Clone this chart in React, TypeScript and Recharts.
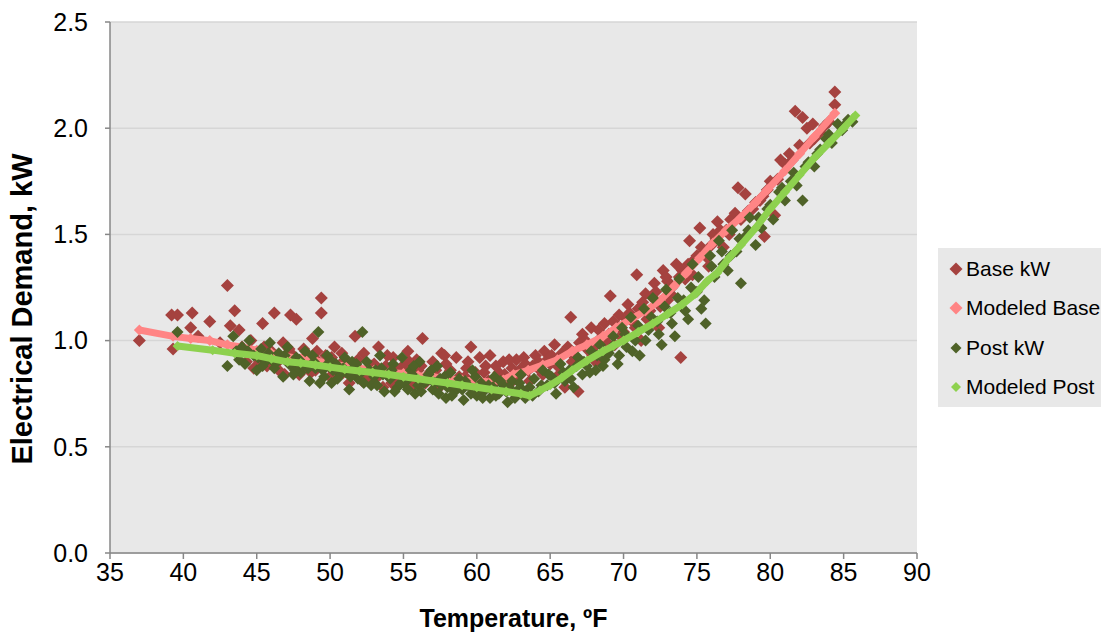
import React from 'react';
import { ScatterChart, Scatter, XAxis, YAxis, CartesianGrid, Legend } from 'recharts';

const FONT = '"Liberation Sans", Arial, sans-serif';

const xTicks = [35, 40, 45, 50, 55, 60, 65, 70, 75, 80, 85, 90];
const yTicks = [0, 0.5, 1.0, 1.5, 2.0, 2.5];

const seriesNames = ['Base kW', 'Modeled Base', 'Post kW', 'Modeled Post'];
const seriesColors = ['#A5423F', '#FF8585', '#4F6228', '#8ED14F'];

const baseKW: [number, number][] = [
  [37.0, 1.0], [39.2, 1.12], [39.6, 1.12], [39.3, 0.96], [40.5, 1.06], [40.6, 1.13], [41.0, 1.02], [41.8, 1.09],
  [42.5, 0.99], [43.0, 1.26], [43.2, 1.07], [43.5, 1.14], [43.8, 1.05], [44.0, 0.97], [44.3, 0.9], [44.6, 1.0],
  [45.0, 0.93], [45.4, 1.08], [45.7, 0.88], [46.0, 0.95], [46.2, 1.13], [46.5, 0.86], [46.8, 0.99], [47.0, 0.91],
  [47.3, 1.12], [47.7, 1.1], [47.9, 0.84], [48.2, 0.96], [48.5, 0.89], [48.8, 1.01], [49.0, 0.86], [49.4, 1.2],
  [49.4, 1.13], [49.7, 0.93], [50.0, 0.83], [50.3, 0.97], [50.6, 0.88], [51.0, 0.91], [51.3, 0.8], [51.7, 1.02],
  [52.0, 0.86], [52.3, 0.94], [52.6, 0.82], [53.0, 0.89], [53.3, 0.97], [53.6, 0.78], [54.0, 0.85], [54.3, 0.92],
  [54.6, 0.81], [55.0, 0.88], [55.3, 0.95], [55.6, 0.79], [56.0, 0.86], [56.3, 1.01], [56.6, 0.83], [57.0, 0.9],
  [57.3, 0.77], [57.6, 0.94], [58.0, 0.84], [58.3, 0.8], [58.6, 0.92], [59.0, 0.78], [59.3, 0.87], [59.6, 0.97],
  [60.0, 0.82], [60.3, 0.76], [60.6, 0.88], [60.9, 0.93], [61.2, 0.8], [61.5, 0.85], [61.8, 0.9], [62.1, 0.78],
  [62.4, 0.87], [62.7, 0.91], [63.0, 0.84], [63.3, 0.89], [63.6, 0.81], [64.0, 0.93], [64.3, 0.86], [64.6, 0.95],
  [65.0, 0.89], [65.3, 0.98], [65.6, 0.84], [66.0, 0.78], [66.4, 1.11], [66.7, 0.92], [66.9, 0.76], [67.2, 1.03],
  [67.5, 0.96], [67.8, 1.06], [68.1, 0.9], [68.4, 1.01], [68.7, 1.08], [69.1, 1.21], [69.4, 0.98], [69.7, 1.12],
  [70.0, 1.04], [70.3, 1.17], [70.6, 1.09], [70.9, 1.31], [71.2, 1.0], [71.5, 1.22], [71.8, 1.14], [72.1, 1.27],
  [72.4, 1.06], [72.7, 1.33], [73.0, 1.19], [73.3, 1.25], [73.6, 1.36], [73.9, 0.92], [74.2, 1.29], [74.5, 1.47],
  [74.8, 1.38], [75.2, 1.53], [75.5, 1.42], [75.8, 1.35], [76.1, 1.5], [76.4, 1.56], [76.8, 1.44], [77.3, 1.57],
  [77.8, 1.72], [78.3, 1.69], [78.5, 1.61], [79.0, 1.65], [79.6, 1.49], [79.8, 1.71], [80.3, 1.59], [80.7, 1.85],
  [81.0, 1.83], [81.7, 2.08], [82.2, 2.05], [82.5, 2.0], [82.9, 2.02], [83.4, 1.98], [84.4, 2.17], [84.4, 2.11],
  [44.8, 0.87], [45.9, 0.91], [46.9, 0.84], [47.5, 0.93], [48.0, 0.87], [49.2, 0.9], [50.1, 0.92], [50.9, 0.85],
  [51.6, 0.89], [52.4, 0.84], [53.1, 0.82], [53.8, 0.88], [54.5, 0.86], [55.2, 0.83], [55.9, 0.91], [56.5, 0.8],
  [57.2, 0.86], [57.9, 0.89], [58.5, 0.77], [59.2, 0.83], [59.8, 0.8], [60.5, 0.85], [61.0, 0.77], [61.7, 0.82],
  [62.3, 0.8], [62.9, 0.86], [63.8, 0.88], [64.8, 0.91], [65.8, 0.94], [67.0, 0.99], [68.0, 0.97], [69.0, 1.03],
  [70.2, 1.1], [71.0, 1.15], [72.0, 1.2], [73.0, 1.28], [74.0, 1.33], [75.0, 1.4], [76.0, 1.45], [77.0, 1.52],
  [78.0, 1.57], [79.3, 1.66], [80.0, 1.75], [81.3, 1.88], [82.0, 1.92], [83.0, 1.95], [84.0, 2.03],
  [45.2, 0.9], [45.5, 0.97], [46.3, 0.89], [46.7, 0.92], [47.2, 0.96], [47.8, 0.9], [48.4, 0.93], [48.7, 0.85],
  [49.1, 0.95], [49.9, 0.88], [50.4, 0.86], [50.8, 0.94], [51.2, 0.87], [51.9, 0.91], [52.2, 0.81], [52.8, 0.88],
  [53.4, 0.84], [53.9, 0.93], [54.2, 0.8], [54.8, 0.87], [55.4, 0.9], [55.8, 0.82], [56.2, 0.88], [56.8, 0.85],
  [57.4, 0.81], [57.8, 0.93], [58.2, 0.86], [58.8, 0.83], [59.4, 0.9], [59.9, 0.85], [60.2, 0.92], [60.8, 0.81],
  [61.3, 0.88], [61.9, 0.84], [62.2, 0.91], [62.6, 0.82], [63.2, 0.92], [63.5, 0.86], [64.2, 0.9], [64.5, 0.84],
  [65.1, 0.93], [65.5, 0.88], [66.2, 0.97], [66.5, 0.9], [67.4, 1.0], [67.9, 0.93], [68.3, 1.05], [68.9, 0.99],
  [69.3, 1.09], [69.8, 1.02], [70.4, 1.13], [70.8, 1.06], [71.3, 1.18], [71.6, 1.1], [72.2, 1.23], [72.5, 1.16],
  [72.9, 1.3], [73.2, 1.22], [73.8, 1.3], [74.4, 1.36], [74.7, 1.31], [75.3, 1.44], [75.7, 1.39], [76.3, 1.48],
  [76.6, 1.52], [77.2, 1.5], [77.6, 1.6], [78.8, 1.62], [79.5, 1.68], [80.5, 1.76], [81.5, 1.85], [82.7, 1.93],
  [83.7, 2.01],
];

const modeledBase: [number, number][] = [
  [37.0, 1.05], [39.3, 1.02], [40.5, 1.01], [41.8, 1.0], [43.0, 0.98], [44.0, 0.97], [45.0, 0.955], [46.0, 0.94],
  [47.0, 0.925], [48.0, 0.915], [49.0, 0.905], [50.0, 0.89], [51.0, 0.88], [52.0, 0.87], [53.0, 0.86], [54.0, 0.85],
  [55.0, 0.845], [56.0, 0.835], [57.0, 0.83], [58.0, 0.82], [59.0, 0.815], [60.0, 0.81], [61.0, 0.805], [61.8, 0.815],
  [62.5, 0.84], [63.5, 0.86], [64.5, 0.885], [65.5, 0.91], [66.5, 0.95], [67.5, 0.98], [68.6, 1.02], [69.5, 1.06],
  [70.5, 1.1], [71.5, 1.14], [72.5, 1.19], [73.5, 1.26], [74.3, 1.32], [75.2, 1.39], [76.1, 1.46], [77.0, 1.52],
  [78.0, 1.58], [79.0, 1.65], [79.8, 1.71], [81.0, 1.8], [82.0, 1.88], [83.0, 1.96], [84.4, 2.07],
];

const postKW: [number, number][] = [
  [39.6, 1.04], [43.0, 0.88], [43.4, 1.02], [43.6, 0.95], [44.0, 0.97], [44.2, 0.89], [44.5, 1.0], [44.8, 0.93],
  [45.0, 0.86], [45.3, 0.96], [45.6, 0.9], [45.9, 0.99], [46.2, 0.87], [46.5, 0.94], [46.8, 0.83], [47.1, 0.97],
  [47.4, 0.88], [47.7, 0.92], [48.0, 0.85], [48.3, 0.95], [48.6, 0.81], [48.9, 0.9], [49.2, 1.04], [49.5, 0.86],
  [49.8, 0.93], [50.1, 0.8], [50.4, 0.89], [50.7, 0.84], [51.0, 0.92], [51.3, 0.77], [51.6, 0.87], [51.9, 0.82],
  [52.2, 1.04], [52.5, 0.9], [52.8, 0.79], [53.1, 0.86], [53.4, 0.93], [53.7, 0.76], [54.0, 0.83], [54.3, 0.89],
  [54.6, 0.78], [54.9, 0.92], [55.2, 0.81], [55.5, 0.86], [55.8, 0.75], [56.1, 0.9], [56.4, 0.8], [56.7, 0.84],
  [57.0, 0.77], [57.3, 0.88], [57.6, 0.79], [57.9, 0.73], [58.2, 0.85], [58.5, 0.76], [58.8, 0.82], [59.1, 0.72],
  [59.4, 0.79], [59.7, 0.86], [60.0, 0.74], [60.3, 0.8], [60.6, 0.77], [60.9, 0.73], [61.2, 0.83], [61.5, 0.75],
  [61.8, 0.79], [62.1, 0.71], [62.4, 0.81], [62.7, 0.76], [63.0, 0.84], [63.3, 0.73], [63.6, 0.78], [63.9, 0.82],
  [64.2, 0.76], [64.5, 0.86], [64.8, 0.79], [65.1, 0.83], [65.4, 0.75], [65.7, 0.89], [66.0, 0.81], [66.3, 0.86],
  [66.6, 0.78], [66.9, 0.92], [67.2, 0.84], [67.5, 0.88], [67.8, 0.95], [68.1, 0.86], [68.4, 0.98], [68.7, 0.91],
  [69.0, 0.94], [69.3, 1.02], [69.6, 0.89], [69.9, 1.06], [70.2, 0.97], [70.5, 1.11], [70.8, 1.0], [71.1, 0.93],
  [71.4, 1.15], [71.7, 1.05], [72.0, 1.2], [72.3, 1.09], [72.6, 0.98], [72.9, 1.24], [73.2, 1.13], [73.5, 1.02],
  [73.8, 1.29], [74.1, 1.19], [74.4, 1.1], [74.7, 1.36], [75.0, 1.23], [75.3, 1.15], [75.6, 1.08], [75.9, 1.4],
  [76.2, 1.3], [76.5, 1.47], [76.8, 1.36], [77.1, 1.33], [77.4, 1.52], [77.7, 1.42], [78.0, 1.27], [78.3, 1.49],
  [78.6, 1.58], [79.0, 1.45], [79.4, 1.53], [79.8, 1.62], [80.2, 1.57], [80.6, 1.7], [81.0, 1.66], [81.4, 1.75],
  [81.8, 1.73], [82.2, 1.66], [82.6, 1.84], [83.0, 1.82], [83.4, 1.9], [83.8, 1.95], [84.2, 1.93], [84.6, 2.02],
  [84.9, 1.99], [85.3, 2.04], [85.6, 2.03],
  [45.1, 0.92], [46.0, 0.91], [47.2, 0.89], [48.1, 0.88], [49.0, 0.87], [50.2, 0.86], [51.1, 0.85], [52.0, 0.84],
  [53.0, 0.83], [54.1, 0.82], [55.0, 0.8], [56.0, 0.79], [57.1, 0.8], [58.0, 0.78], [59.0, 0.77], [60.1, 0.76],
  [61.1, 0.78], [62.0, 0.76], [63.1, 0.77], [55.6, 0.84], [57.5, 0.82], [53.5, 0.87], [51.5, 0.9], [49.6, 0.83],
  [47.6, 0.86],
  [43.8, 0.91], [44.4, 0.95], [45.4, 0.88], [45.8, 0.94], [46.4, 0.9], [46.9, 0.93], [47.5, 0.84], [47.9, 0.91],
  [48.5, 0.87], [48.8, 0.93], [49.3, 0.8], [49.7, 0.88], [50.0, 0.91], [50.5, 0.82], [50.9, 0.87], [51.4, 0.83],
  [51.8, 0.89], [52.3, 0.8], [52.7, 0.86], [53.2, 0.79], [53.6, 0.84], [54.2, 0.86], [54.4, 0.76], [54.8, 0.8],
  [55.3, 0.77], [55.7, 0.88], [56.2, 0.76], [56.6, 0.81], [56.9, 0.86], [57.4, 0.75], [57.8, 0.83], [58.3, 0.74],
  [58.7, 0.79], [59.2, 0.81], [59.6, 0.75], [59.9, 0.83], [60.4, 0.73], [60.8, 0.79], [61.3, 0.74], [61.6, 0.81],
  [62.2, 0.78], [62.6, 0.73], [62.9, 0.8], [63.4, 0.76], [63.8, 0.74], [64.4, 0.79], [64.9, 0.84], [65.3, 0.8],
  [65.9, 0.85], [66.4, 0.82], [66.8, 0.88], [67.3, 0.9], [67.7, 0.85], [68.2, 0.93], [68.6, 0.88], [69.2, 0.97],
  [69.7, 0.93], [70.1, 1.03], [70.6, 0.95], [71.0, 1.07], [71.5, 1.0], [71.9, 1.11], [72.4, 1.03], [72.8, 1.16],
  [73.3, 1.08], [73.7, 1.2], [74.2, 1.14], [74.6, 1.25], [75.1, 1.3], [75.5, 1.19], [76.0, 1.35], [76.7, 1.42],
  [77.3, 1.4], [77.9, 1.48], [78.5, 1.52], [79.2, 1.58], [80.0, 1.64], [80.8, 1.72], [81.6, 1.79], [82.4, 1.82],
  [83.2, 1.88], [84.0, 1.97], [85.0, 2.01],
];

const modeledPost: [number, number][] = [
  [39.6, 0.975], [42.0, 0.955], [43.5, 0.94], [45.0, 0.93], [46.0, 0.915], [47.1, 0.9], [48.0, 0.895], [49.0, 0.885],
  [50.0, 0.875], [51.0, 0.865], [52.0, 0.857], [52.9, 0.85], [54.0, 0.84], [55.0, 0.83], [56.0, 0.82], [57.0, 0.81],
  [58.0, 0.8], [59.0, 0.79], [60.0, 0.78], [61.0, 0.77], [62.0, 0.76], [63.0, 0.75], [63.6, 0.74], [64.3, 0.765],
  [65.0, 0.79], [65.8, 0.825], [66.5, 0.86], [67.5, 0.905], [68.6, 0.95], [69.3, 0.975], [70.0, 1.0], [71.0, 1.04],
  [72.0, 1.08], [73.0, 1.125], [74.0, 1.17], [74.9, 1.22], [75.7, 1.28], [76.4, 1.32], [77.2, 1.39], [78.0, 1.45],
  [79.0, 1.53], [80.0, 1.62], [81.0, 1.7], [82.0, 1.78], [83.0, 1.86], [84.0, 1.93], [85.0, 2.0], [85.8, 2.06],
];

const toPts = (arr: [number, number][]) => arr.map(([x, y]) => ({ x, y }));

const makeDiamond = (r: number, fill: string) => (props: any) => {
  const { cx, cy } = props;
  if (cx == null || cy == null) return <g />;
  return (
    <polygon
      points={`${cx},${cy - r} ${cx + r},${cy} ${cx},${cy + r} ${cx - r},${cy}`}
      fill={fill}
    />
  );
};

const legendMarkerSizes = [6.5, 6.5, 5.5, 5];

const LegendBox = () => (
  <div
    style={{
      position: 'relative',
      width: 170,
      height: 159,
      background: '#E8E8E8',
      fontFamily: FONT,
      fontSize: 21,
      color: '#000',
    }}
  >
    {seriesNames.map((name, i) => {
      const cy = 21 + i * 39.3;
      const r = legendMarkerSizes[i];
      return (
        <div key={name} style={{ position: 'absolute', left: 0, top: cy - 12, height: 24, width: 200 }}>
          <svg width={30} height={24} style={{ position: 'absolute', left: 0, top: 0 }}>
            <polygon
              points={`18,${12 - r} ${18 + r},12 18,${12 + r} ${18 - r},12`}
              fill={seriesColors[i]}
            />
          </svg>
          <span style={{ position: 'absolute', left: 28, top: 0, lineHeight: '24px', whiteSpace: 'nowrap' }}>{name}</span>
        </div>
      );
    })}
  </div>
);

const YLabel = () => (
  <text
    x={22}
    y={309}
    transform="rotate(-90, 22, 309)"
    textAnchor="middle"
    dominantBaseline="central"
    fontFamily={FONT}
    fontSize={29}
    fontWeight="bold"
    fill="#000"
  >
    Electrical Demand, kW
  </text>
);

const XLabel = (props: any) => {
  const { viewBox } = props;
  const cx = viewBox ? viewBox.x + viewBox.width / 2 : 513;
  return (
    <text
      x={cx}
      y={627}
      textAnchor="middle"
      fontFamily={FONT}
      fontSize={25}
      fontWeight="bold"
      fill="#000"
    >
      Temperature, ºF
    </text>
  );
};

export default function App() {
  return (
    <div style={{ position: 'absolute', left: 0, top: 0, width: 1101, height: 636, overflow: 'hidden', background: '#fff' }}>
      <ScatterChart width={1101} height={636} margin={{ top: 22, right: 184, bottom: 0, left: 0 }}>
        <CartesianGrid horizontal vertical={false} stroke="#D6D6D6" strokeWidth={1.5} fill="#E8E8E8" />
        <XAxis
          type="number"
          dataKey="x"
          domain={[35, 90]}
          ticks={xTicks}
          interval={0}
          height={83}
          axisLine={{ stroke: '#878787', strokeWidth: 1.5 }}
          tickLine={{ stroke: '#878787', strokeWidth: 1.5 }}
          tickSize={6}
          tickMargin={4}
          tick={{ fill: '#000', fontSize: 25, fontFamily: FONT }}
          label={<XLabel />}
        />
        <YAxis
          type="number"
          dataKey="y"
          domain={[0, 2.5]}
          ticks={yTicks}
          interval={0}
          width={110}
          axisLine={{ stroke: '#878787', strokeWidth: 1.5 }}
          tickLine={{ stroke: '#878787', strokeWidth: 1.5 }}
          tickSize={5}
          tickMargin={17}
          tickFormatter={(v: number) => v.toFixed(1)}
          tick={{ fill: '#000', fontSize: 25, fontFamily: FONT }}
          label={<YLabel />}
        />
        <Legend
          layout="vertical"
          align="center"
          verticalAlign="middle"
          wrapperStyle={{ position: 'absolute', left: 938, top: 248, width: 170, height: 159 }}
          content={() => <LegendBox />}
        />
        <Scatter
          name={seriesNames[0]}
          data={toPts(baseKW)}
          fill={seriesColors[0]}
          shape={makeDiamond(6.5, seriesColors[0])}
          isAnimationActive={false}
        />
        <Scatter
          name={seriesNames[1]}
          data={toPts(modeledBase)}
          fill={seriesColors[1]}
          line={{ stroke: seriesColors[1], strokeWidth: 7 }}
          shape={makeDiamond(5.5, seriesColors[1])}
          isAnimationActive={false}
        />
        <Scatter
          name={seriesNames[2]}
          data={toPts(postKW)}
          fill={seriesColors[2]}
          shape={makeDiamond(6, seriesColors[2])}
          isAnimationActive={false}
        />
        <Scatter
          name={seriesNames[3]}
          data={toPts(modeledPost)}
          fill={seriesColors[3]}
          line={{ stroke: seriesColors[3], strokeWidth: 7 }}
          shape={makeDiamond(5, seriesColors[3])}
          isAnimationActive={false}
        />
      </ScatterChart>
    </div>
  );
}
